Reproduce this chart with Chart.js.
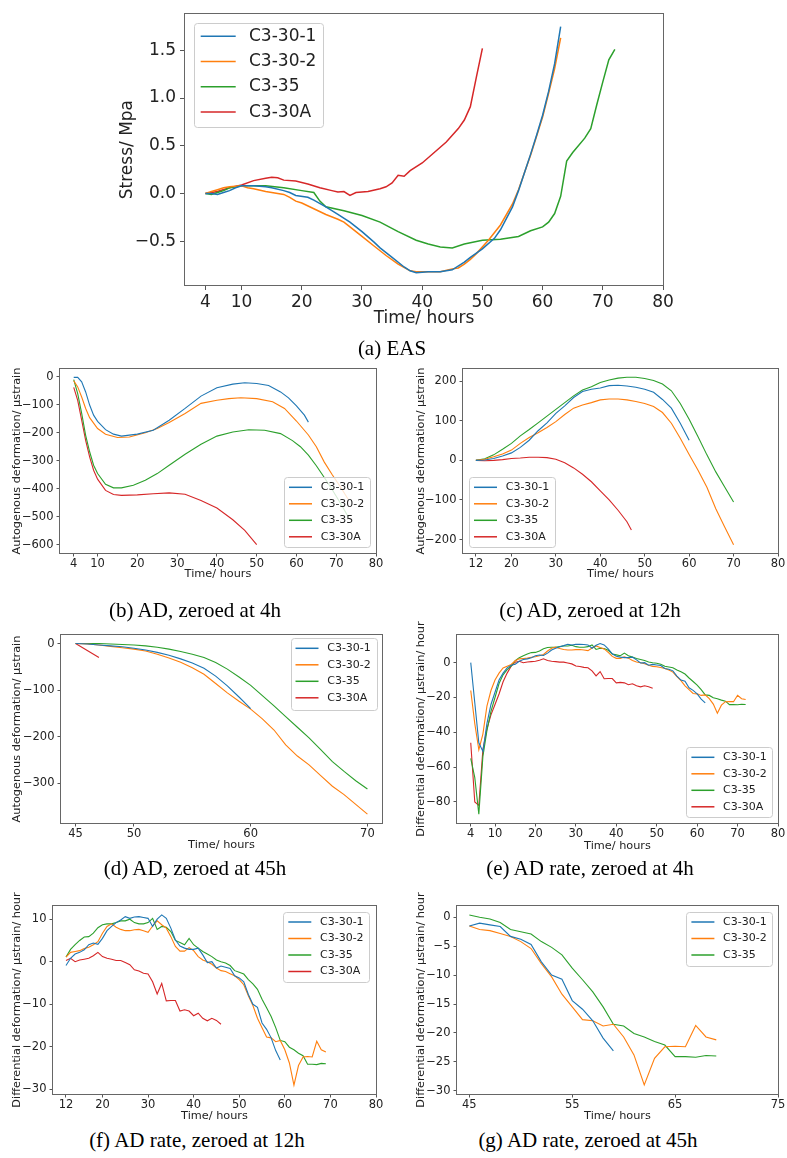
<!DOCTYPE html>
<html lang="en">
<head>
<meta charset="UTF-8">
<title>EAS and AD curves</title>
<script src="https://cdn.jsdelivr.net/npm/chart.js"></script>
<style>
  body { margin: 0; background: #fff; width: 787px; height: 1158px; position: relative; overflow: hidden; }
  canvas { position: absolute; }
  .cap { position: absolute; width: 400px; text-align: center; line-height: 26px;
         font-family: "Liberation Serif", "Times New Roman", serif; font-size: 21px; color: #000; }
</style>
</head>
<body>
<canvas id="chA" width="580" height="335" style="left:100px;top:0px"></canvas>
<canvas id="chB" width="395" height="229" style="left:0px;top:355px"></canvas>
<canvas id="chC" width="392" height="229" style="left:395px;top:355px"></canvas>
<canvas id="chD" width="395" height="239" style="left:0px;top:615px"></canvas>
<canvas id="chE" width="392" height="249" style="left:395px;top:605px"></canvas>
<canvas id="chF" width="395" height="245" style="left:0px;top:880px"></canvas>
<canvas id="chG" width="392" height="245" style="left:395px;top:880px"></canvas>

<div class="cap" style="left:192px;top:335px">(a) EAS</div>
<div class="cap" style="left:-5px;top:597px">(b) AD, zeroed at 4h</div>
<div class="cap" style="left:390px;top:597px">(c) AD, zeroed at 12h</div>
<div class="cap" style="left:-5px;top:855px">(d) AD, zeroed at 45h</div>
<div class="cap" style="left:390px;top:855px">(e) AD rate, zeroed at 4h</div>
<div class="cap" style="left:-3px;top:1127px">(f) AD rate, zeroed at 12h</div>
<div class="cap" style="left:388px;top:1127px">(g) AD rate, zeroed at 45h</div>

<script>
// ---- series names / colours
const names = ['C3-30-1', 'C3-30-2', 'C3-35', 'C3-30A'];
const colors = ['#1f77b4', '#ff7f0e', '#2ca02c', '#d62728'];

// hourly time column
function hours(a, b) { const r = []; for (let h = a; h <= b; h++) r.push(h); return r; }

// ---- (a) EAS, stress in MPa
const aTime_c301 = [4,5,6,7,8,9,10,12,14,15,17,18,19,21,22,24,26,28,30,32,33,35,37,38,39,41,43,45,47,48,50,52,53,55,56,57,58,59,60,61,62,63];
const aStress_c301 = [0,0,-0.01,0.01,0.03,0.06,0.08,0.08,0.07,0.06,0.03,0.01,-0.02,-0.04,-0.07,-0.14,-0.22,-0.30,-0.40,-0.51,-0.57,-0.67,-0.77,-0.81,-0.83,-0.82,-0.82,-0.80,-0.72,-0.67,-0.58,-0.47,-0.38,-0.14,0.03,0.22,0.41,0.61,0.82,1.07,1.36,1.75];
const aTime_c302 = [4,5,6,7,8,10,11,12,14,17,18,19,20,22,24,26,27,28,30,32,34,36,38,39,40,43,45,46,47,48,49,51,53,55,56,57,58,59,60,61,62,63];
const aStress_c302 = [0,0.02,0.04,0.06,0.07,0.08,0.06,0.05,0.02,-0.01,-0.04,-0.08,-0.10,-0.16,-0.22,-0.27,-0.30,-0.35,-0.45,-0.55,-0.65,-0.74,-0.81,-0.82,-0.82,-0.82,-0.79,-0.78,-0.74,-0.69,-0.63,-0.49,-0.33,-0.11,0.04,0.22,0.40,0.60,0.80,1.05,1.31,1.63];
const aTime_c35 = [4,5,6,7,8,10,12,14,17,20,22,23,24,27,30,33,36,39,41,43,45,47,50,53,56,58,60,61,62,63,64,65,67,68,69,70,71,72];
const aStress_c35 = [0,-0.01,0.01,0.03,0.06,0.08,0.08,0.08,0.06,0.03,0.01,-0.08,-0.14,-0.18,-0.23,-0.30,-0.40,-0.49,-0.53,-0.56,-0.57,-0.53,-0.49,-0.48,-0.45,-0.39,-0.35,-0.30,-0.21,-0.03,0.34,0.43,0.58,0.68,0.93,1.17,1.40,1.51];
const aTime_c30a = [4,6,8,10,12,14,15,16,17,19,21,23,25,26,27,28,29,31,33,34,35,36,37,38,40,42,44,46,47,48,49,50];
const aStress_c30a = [0,0.02,0.06,0.09,0.135,0.16,0.17,0.165,0.14,0.13,0.10,0.06,0.03,0.015,0.02,-0.02,0.01,0.02,0.05,0.07,0.11,0.19,0.18,0.24,0.32,0.43,0.54,0.68,0.77,0.91,1.22,1.52];

// ---- (b) AD zeroed at 4h, microstrain
const bTime_c301 = [4,5,6,7,8,9,10,12,14,16,20,24,28,32,36,40,44,47,50,53,56,58,60,62,63];
const bAD_c301 = [-2,-2,-18,-54,-101,-137,-159,-189,-205,-212,-205,-191,-155,-113,-69,-39,-26,-21,-24,-31,-54,-75,-104,-137,-162];
const bTime_c302 = [4,5,6,7,8,10,12,15,18,22,25,28,32,36,40,43,46,50,54,57,60,63,65,67,69,71,73];
const bAD_c302 = [-14,-36,-72,-113,-146,-185,-205,-217,-215,-200,-185,-163,-131,-95,-84,-78,-75,-78,-89,-113,-158,-208,-250,-305,-350,-392,-438];
const bTime_c35 = [4,5,6,7,8,9,10,12,14,16,19,22,25,28,32,36,40,44,48,52,56,59,61,63,65,67,69,71,73];
const bAD_c35 = [-10,-60,-131,-209,-268,-316,-346,-384,-397,-397,-388,-370,-346,-316,-277,-241,-212,-197,-189,-191,-203,-228,-250,-280,-318,-360,-404,-450,-500];
const bTime_c30a = [4,5,6,7,8,9,10,12,14,16,20,24,28,32,36,40,44,47,50];
const bAD_c30a = [-38,-84,-155,-227,-286,-334,-366,-406,-421,-424,-422,-418,-415,-420,-442,-469,-511,-549,-600];

// ---- (c) AD zeroed at 12h
const cTime_c301 = [12,14,16,18,20,22,24,26,28,30,32,34,36,38,40,42,44,46,48,50,52,54,56,58,60];
const cAD_c301 = [0,1,5,11,19,33,51,75,95,119,138,159,174,180,183,189,190,188,185,180,172,154,132,94,51];
const cTime_long = [12,14,16,18,20,22,24,26,28,30,32,34,36,38,40,42,44,46,48,50,52,54,56,58,60,62,64,66,68,70];
const cAD_c302 = [0,3,9,16,26,43,58,70,83,98,116,132,140,146,153,155,155,153,149,144,136,121,94,56,15,-25,-68,-122,-168,-213];
const cAD_c35 = [0,4,14,28,43,62,78,95,112,129,146,163,178,186,197,203,208,210,210,207,202,193,176,144,104,60,14,-29,-67,-105];
const cTime_c30a = [12,14,16,18,20,22,24,26,28,30,32,34,36,38,40,42,44,46,47];
const cAD_c30a = [0,-1,0,2,5,6,8,8,7,3,-6,-19,-35,-54,-77,-100,-126,-155,-176];

// ---- (d) AD zeroed at 45h
const dAD_c301 = [0,-1,-3,-5,-7,-10,-14,-19,-25,-33,-42,-53,-70,-91,-115,-140];                       // 45..60
const dAD_c302 = [0,-1,-3,-6,-9,-12,-16,-23,-31,-40,-52,-66,-86,-106,-124,-141,-162,-186,-218,-242,-261,-284,-307,-325,-346,-367]; // 45..70
const dAD_c35 = [0,0,0,-1,-2,-3,-5,-8,-12,-17,-23,-30,-41,-55,-72,-90,-112,-134,-157,-180,-203,-228,-254,-275,-295,-313];   // 45..70
const dAD_c30a = [0,-15,-30];                                                                         // 45..47

// ---- (e) AD rate zeroed at 4h, microstrain/hour (hourly from 4h)
const eRate_c301 = [0,-23,-46,-51,-35,-24,-17,-10,-6,-3,-1.5,
  -0.9,0.8,1.8,2.2,2.8,4.0,4.4,4.1,5.5,7.3,8.3,9.2,9.8,10.6,10.2,10.5,10.6,10.4,10.2,8.3,10.0,11.0,10.2,7.9,5.1,3.7,3.2,2.9,2.9,3.2,1.6,-0.2,0.0,
  -1.5,-1.0,-1.3,-1.6,-3.3,-3.8,-4.7,-7.7,-10.0,-10.7,-14.4,-15.9,-17.9,-20.9,-23.1];
const eRate_c302 = [-16,-35,-50,-41,-25,-16,-10,-6,-3,-2,-1,
  1.1,2.2,2.4,2.6,3.1,3.4,4.0,4.7,6.7,8.3,8.9,8.1,7.6,7.3,7.3,7.5,7.6,7.3,6.9,8.4,9.6,8.7,7.9,5.9,3.6,2.5,2.5,3.3,2.6,1.2,0.4,0.0,-0.6,
  -1.5,-2.1,-2.3,-2.8,-3.3,-4.2,-5.4,-8.0,-10.3,-13.3,-15.5,-17.7,-17.9,-18.8,-18.5,-20.7,-23.8,-29.0,-24.4,-22.4,-22.3,-22.4,-18.7,-20.7,-21.2];
const eRate_c35 = [-55,-66,-87,-54,-39,-28,-20,-12,-7,-4,-2,
  1.1,2.9,4.0,5.0,5.8,5.9,6.7,8.0,8.7,8.9,8.9,9.2,9.6,9.6,10.0,9.2,8.9,8.9,9.2,10.2,7.6,8.3,8.1,7.1,5.0,4.5,4.0,5.5,4.0,3.2,2.4,1.8,1.2,
  0.4,0.0,-0.3,-0.9,-2.1,-2.5,-2.9,-4.2,-5.2,-6.5,-8.8,-10.8,-12.9,-15.5,-18.5,-18.8,-20.1,-20.7,-21.5,-22.1,-24.1,-24.1,-24.2,-23.9,-24.0];
const eRate_c30a = [-46,-80,-82,-50,-38,-30,-24,-18,-11,-6,-2,
  0.3,0.8,0.0,0.4,0.6,0.8,1.4,2.2,1.2,0.8,0.6,0.3,0.3,-0.2,-0.7,-1.9,-2.2,-2.7,-2.9,-4.7,-7.6,-5.1,-9.2,-9.1,-9.1,-11.6,-11.3,-11.6,-12.7,-12.1,-13.3,-13.9,-13.3,-13.8,-14.7];

// ---- (f) AD rate zeroed at 12h (hourly from 12h)
const fRate_c301 = [-0.9,0.8,1.8,2.2,2.8,4.0,4.4,4.1,5.5,7.3,8.3,9.2,9.8,10.6,10.2,10.5,10.6,10.4,10.2,8.3,10.0,11.0,10.2,7.9,5.1,3.7,3.2,2.9,2.9,3.2,1.6,-0.2,0.0,
  -1.5,-1.0,-1.3,-1.6,-3.3,-3.8,-4.7,-7.7,-10.0,-10.7,-14.4,-15.9,-17.9,-20.9,-23.1];
const fRate_c302 = [1.1,2.2,2.4,2.6,3.1,3.4,4.0,4.7,6.7,8.3,8.9,8.1,7.6,7.3,7.3,7.5,7.6,7.3,6.9,8.4,9.6,8.7,7.9,5.9,3.6,2.5,2.5,3.3,2.6,1.2,0.4,0.0,-0.6,
  -1.5,-2.1,-2.3,-2.8,-3.3,-4.2,-5.4,-8.0,-10.3,-13.3,-15.5,-17.7,-17.9,-18.8,-18.5,-20.7,-23.8,-29.0,-24.4,-22.4,-22.3,-22.4,-18.7,-20.7,-21.2];
const fRate_c35 = [1.1,2.9,4.0,5.0,5.8,5.9,6.7,8.0,8.7,8.9,8.9,9.2,9.6,9.6,10.0,9.2,8.9,8.9,9.2,10.2,7.6,8.3,8.1,7.1,5.0,4.5,4.0,5.5,4.0,3.2,2.4,1.8,1.2,
  0.4,0.0,-0.3,-0.9,-2.1,-2.5,-2.9,-4.2,-5.2,-6.5,-8.8,-10.8,-12.9,-15.5,-18.5,-18.8,-20.1,-20.7,-21.5,-22.1,-24.1,-24.1,-24.2,-23.9,-24.0];
const fRate_c30a = [0.3,0.8,0.0,0.4,0.6,0.8,1.4,2.2,1.2,0.8,0.6,0.3,0.3,-0.2,-0.7,-1.9,-2.2,-2.7,-2.9,-4.7,-7.6,-5.1,-9.2,-9.1,-9.1,-11.6,-11.3,-11.6,-12.7,-12.1,-13.3,-13.9,-13.3,-13.8,-14.7];

// ---- (g) AD rate zeroed at 45h (hourly from 45h)
const gRate_c301 = [-1.5,-1.0,-1.3,-1.6,-3.3,-3.8,-4.7,-7.7,-10.0,-10.7,-14.4,-15.9,-17.9,-20.9,-23.1];
const gRate_c302 = [-1.5,-2.1,-2.3,-2.8,-3.3,-4.2,-5.4,-8.0,-10.3,-13.3,-15.5,-17.7,-17.9,-18.8,-18.5,-20.7,-23.8,-29.0,-24.4,-22.4,-22.3,-22.4,-18.7,-20.7,-21.2];
const gRate_c35 = [0.4,0.0,-0.3,-0.9,-2.1,-2.5,-2.9,-4.2,-5.2,-6.5,-8.8,-10.8,-12.9,-15.5,-18.5,-18.8,-20.1,-20.7,-21.5,-22.1,-24.1,-24.1,-24.2,-23.9,-24.0];

// ---- tick labels
const aXTicks = [4,10,20,30,40,50,60,70,80];
const aYTicks = [-0.5,0,0.5,1.0,1.5];
const bYTicks = [-600,-500,-400,-300,-200,-100,0];
const cXTicks = [12,20,30,40,50,60,70,80];
const cYTicks = [-200,-100,0,100,200];
const dXTicks = [45,50,60,70];
const dYTicks = [-300,-200,-100,0];
const eYTicks = [-80,-60,-40,-20,0];
const fYTicks = [-30,-20,-10,0,10];
const gXTicks = [45,55,65,75];
const gYTicks = [-30,-25,-20,-15,-10,-5,0];

// ---------------------------------------------------------------
const FONT = '"DejaVu Sans", "Liberation Sans", sans-serif';
const minus = s => String(s).replace('-', '\u2212');

function series(i, xs, ys, w) {
  return { label: names[i], data: xs.map((x, k) => ({ x: x, y: ys[k] })),
           borderColor: colors[i], borderWidth: w, pointRadius: 0, tension: 0, fill: false };
}

const framePlugin = {
  id: 'frame',
  afterDatasetsDraw(chart) {
    const { ctx, chartArea: a } = chart;
    ctx.save();
    ctx.strokeStyle = '#666';
    ctx.lineWidth = 1;
    ctx.strokeRect(Math.round(a.left) - 0.5, Math.round(a.top) - 0.5,
                   Math.round(a.right - a.left) + 1, Math.round(a.bottom - a.top) + 1);
    ctx.restore();
  }
};

const boxLegend = {
  id: 'boxLegend',
  afterDraw(chart, args, o) {
    const { ctx, chartArea: a } = chart;
    const x = o.corner[1] === 'l' ? a.left + o.dx : a.right - o.dx - o.w;
    const y = o.corner[0] === 'u' ? a.top + o.dy : a.bottom - o.dy - o.h;
    ctx.save();
    ctx.beginPath();
    ctx.roundRect(Math.round(x) + 0.5, Math.round(y) + 0.5, o.w, o.h, 3);
    ctx.fillStyle = 'rgba(255,255,255,0.8)';
    ctx.fill();
    ctx.strokeStyle = '#cccccc';
    ctx.lineWidth = 1;
    ctx.stroke();
    ctx.font = o.size + 'px ' + FONT;
    ctx.textBaseline = 'middle';
    chart.data.datasets.forEach((ds, i) => {
      const yy = y + o.row0 + i * o.rowH;
      ctx.strokeStyle = ds.borderColor;
      ctx.lineWidth = o.lw;
      ctx.beginPath();
      ctx.moveTo(x + o.lx0, yy);
      ctx.lineTo(x + o.lx1, yy);
      ctx.stroke();
      ctx.fillStyle = '#222';
      ctx.fillText(ds.label, x + o.tx, yy);
    });
    ctx.restore();
  }
};

// g: canvas box + plot area in page px; ax: ranges and ticks; t: text settings
function panel(id, g, ax, t, datasets, legend) {
  const tickFont = { family: FONT, size: t.tick };
  const titleFont = { family: FONT, size: t.title };
  return new Chart(document.getElementById(id), {
    type: 'line',
    data: { datasets: datasets },
    options: {
      responsive: false,
      animation: false,
      events: [],
      layout: { padding: { top: g.t - g.top, right: g.left + g.w - g.r, left: 0, bottom: 0 } },
      plugins: { legend: { display: false }, tooltip: { enabled: false }, boxLegend: legend },
      scales: {
        x: {
          type: 'linear', min: ax.xmin, max: ax.xmax,
          afterBuildTicks: s => { s.ticks = ax.xticks.map(v => ({ value: v })); },
          afterFit: s => { s.height = g.top + g.h - g.b; },
          grid: { drawOnChartArea: false, color: '#555', tickLength: t.tl },
          border: { display: false },
          ticks: { font: tickFont, color: '#222', padding: t.tpx, maxRotation: 0, autoSkip: false,
                   callback: v => minus(v) },
          title: { display: true, text: 'Time/ hours', font: titleFont, color: '#222',
                   padding: { top: 0, bottom: t.xpad } }
        },
        y: {
          min: ax.ymin, max: ax.ymax,
          afterBuildTicks: s => { s.ticks = ax.yticks.map(v => ({ value: v })); },
          afterFit: s => { s.width = g.l - g.left; },
          grid: { drawOnChartArea: false, color: '#555', tickLength: t.tl },
          border: { display: false },
          ticks: { font: tickFont, color: '#222', padding: t.tpy, autoSkip: false,
                   callback: v => minus(ax.fmt ? ax.fmt(v) : v) },
          title: { display: true, text: ax.ytitle, font: titleFont, color: '#222',
                   padding: { top: t.ypad, bottom: 0 } }
        }
      }
    },
    plugins: [framePlugin, boxLegend]
  });
}

const bigText = { tick: 17, title: 17, tl: 5, tpx: 2, tpy: 4, xpad: 5.8, ypad: 17.8 };
const smallL = { tick: 11.5, title: 11.3, tl: 3.5, tpx: 1, tpy: 3, xpad: 3, ypad: 10.7 };
const smallR = { tick: 11.5, title: 11.3, tl: 3.5, tpx: 1, tpy: 3, xpad: 3, ypad: 19.2 };
const legBig = { corner: 'ul', dx: 9, dy: 9, w: 129, h: 104, size: 17, row0: 13, rowH: 25.3, lx0: 6.7, lx1: 41.7, tx: 55, lw: 1.5 };
const legSmall = (corner, dx, dy, h) => ({ corner, dx, dy, w: 86, h: h, size: 11, row0: 10.3, rowH: 16.5, lx0: 5, lx1: 28, tx: 36.7, lw: 1.5 });
const AD = 'Autogenous deformation/ \u03bcstrain';
const RATE = 'Differential deformation/ \u03bcstrain/ hour';
const LW = 1.1;

// (a)
panel('chA', { left: 100, top: 0, w: 580, h: 335, l: 185, t: 6, r: 663, b: 285 },
  { xmin: 0.6, xmax: 80, xticks: aXTicks, ymin: -0.959, ymax: 1.879, yticks: aYTicks,
    ytitle: 'Stress/ Mpa', fmt: v => v.toFixed(1) },
  bigText,
  [series(0, aTime_c301, aStress_c301, 1.5), series(1, aTime_c302, aStress_c302, 1.5),
   series(2, aTime_c35, aStress_c35, 1.5), series(3, aTime_c30a, aStress_c30a, 1.5)],
  legBig);

// (b)
panel('chB', { left: 0, top: 355, w: 395, h: 229, l: 60, t: 369, r: 376, b: 553 },
  { xmin: 0.55, xmax: 80, xticks: aXTicks, ymin: -630, ymax: 28, yticks: bYTicks, ytitle: AD },
  smallL,
  [series(0, bTime_c301, bAD_c301, LW), series(1, bTime_c302, bAD_c302, LW),
   series(2, bTime_c35, bAD_c35, LW), series(3, bTime_c30a, bAD_c30a, LW)],
  legSmall('lr', 6, 6, 70));

// (c)
panel('chC', { left: 395, top: 355, w: 392, h: 229, l: 463, t: 369, r: 778, b: 553 },
  { xmin: 9.1, xmax: 80, xticks: cXTicks, ymin: -234, ymax: 231, yticks: cYTicks, ytitle: AD },
  smallR,
  [series(0, cTime_c301, cAD_c301, LW), series(1, cTime_long, cAD_c302, LW),
   series(2, cTime_long, cAD_c35, LW), series(3, cTime_c30a, cAD_c30a, LW)],
  legSmall('ll', 6, 6, 70));

// (d)
panel('chD', { left: 0, top: 615, w: 395, h: 239, l: 61, t: 635, r: 382, b: 823 },
  { xmin: 43.75, xmax: 71.25, xticks: dXTicks, ymin: -386, ymax: 18.4, yticks: dYTicks, ytitle: AD },
  { ...smallL, xpad: 2.4 },
  [series(0, hours(45, 60), dAD_c301, LW), series(1, hours(45, 70), dAD_c302, LW),
   series(2, hours(45, 70), dAD_c35, LW), series(3, hours(45, 47), dAD_c30a, LW)],
  legSmall('ur', 5.5, 3, 72));

// (e)
panel('chE', { left: 395, top: 605, w: 392, h: 249, l: 457, t: 635, r: 778, b: 823 },
  { xmin: 0.6, xmax: 80, xticks: aXTicks, ymin: -92.1, ymax: 15.9, yticks: eYTicks, ytitle: RATE },
  { ...smallR, xpad: 1.4 },
  [series(0, hours(4, 62), eRate_c301, LW), series(1, hours(4, 72), eRate_c302, LW),
   series(2, hours(4, 72), eRate_c35, LW), series(3, hours(4, 49), eRate_c30a, LW)],
  legSmall('lr', 5.6, 6, 70));

// (f)
panel('chF', { left: 0, top: 880, w: 395, h: 245, l: 53, t: 906, r: 376, b: 1094 },
  { xmin: 9.15, xmax: 80, xticks: cXTicks, ymin: -31.1, ymax: 13.1, yticks: fYTicks, ytitle: RATE },
  { ...smallL, xpad: 2.4 },
  [series(0, hours(12, 59), fRate_c301, LW), series(1, hours(12, 69), fRate_c302, LW),
   series(2, hours(12, 69), fRate_c35, LW), series(3, hours(12, 46), fRate_c30a, LW)],
  legSmall('ur', 6.7, 5.7, 70));

// (g)
panel('chG', { left: 395, top: 880, w: 392, h: 245, l: 457, t: 906, r: 778, b: 1094 },
  { xmin: 43.8, xmax: 75, xticks: gXTicks, ymin: -30.57, ymax: 1.96, yticks: gYTicks, ytitle: RATE },
  { ...smallR, xpad: 2.4 },
  [series(0, hours(45, 59), gRate_c301, LW), series(1, hours(45, 69), gRate_c302, LW),
   series(2, hours(45, 69), gRate_c35, LW)],
  legSmall('ur', 5.6, 5.7, 54));
</script>
</body>
</html>
